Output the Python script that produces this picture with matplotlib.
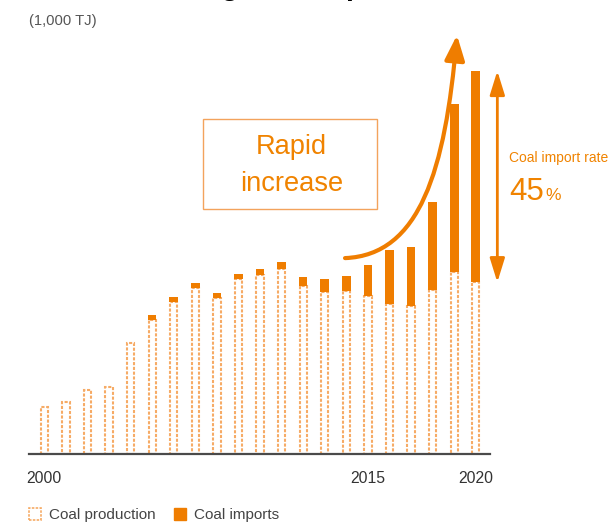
import matplotlib.pyplot as plt
from matplotlib.patches import Patch, Rectangle, FancyArrowPatch, ArrowStyle
from matplotlib.path import Path

plt.rcParams['font.family'] = ['Liberation Sans', 'DejaVu Sans']

# coal supply, 1,000 TJ
years = list(range(2000, 2021))
production = [237, 260, 320, 337, 555, 670, 762, 830, 780, 877, 895,
              927, 843, 813, 817, 793, 750, 742, 820, 910, 860]
imports = [0, 0, 0, 0, 0, 27, 25, 27, 27, 25, 32,
           35, 43, 63, 75, 153, 272, 295, 440, 842, 1057]
tick_years = [2000, 2015, 2020]
import_rate = 45

ORANGE = '#ef7d00'
TEXT_ORANGE = '#f08300'
LIGHT = '#f6ab66'

fig = plt.figure(figsize=(6.11, 5.25), dpi=100)
ax = fig.add_axes([29 / 611, 70.7 / 525, 461 / 611, 444.3 / 525])

ax.bar(years, production, width=0.34, color='white', edgecolor=LIGHT,
       linewidth=1.5, linestyle=(0, (1.5, 0.8)))
ax.bar(years, imports, width=0.40, bottom=production, color=ORANGE,
       linewidth=0)

ax.set_xlim(1999.29, 2020.66)
ax.set_ylim(0, 2221.5)
for s in ['top', 'left', 'right']:
    ax.spines[s].set_visible(False)
ax.spines['bottom'].set_color('#4a4a4a')
ax.spines['bottom'].set_linewidth(1.6)
ax.set_yticks([])
ax.set_xticks(tick_years)
ax.set_xticklabels([str(y) for y in tick_years])
ax.tick_params(axis='x', length=0, pad=12, labelsize=11.3,
               labelcolor='#333333')

# cropped heading and unit label
fig.text(150.8 / 611, 1 + 5 / 525, 'Rising coal imports', fontsize=20.7,
         fontweight='bold', color='black', ha='left', va='baseline')
fig.text(29 / 611, 1 - 21 / 525, '(1,000 TJ)', fontsize=10.6,
         color='#555555', ha='left', va='center')

# "Rapid increase" box
ax.add_patch(Rectangle((2007.37, 1225), 8.07, 450, fill=False,
                       edgecolor='#f3a35c', linewidth=1.0, clip_on=False))
ax.text(2011.45, 1501, 'Rapid', fontsize=19.6, color=TEXT_ORANGE,
        ha='center', va='baseline')
ax.text(2011.45, 1318, 'increase', fontsize=19.6, color=TEXT_ORANGE,
        ha='center', va='baseline')

# rising curve
curve = Path([(2013.94, 981), (2017.42, 996), (2018.58, 1421), (2019.13, 2096)],
             [Path.MOVETO, Path.CURVE4, Path.CURVE4, Path.CURVE4])
ax.add_patch(FancyArrowPatch(path=curve, transform=ax.transData,
                             arrowstyle=ArrowStyle('-|>', head_length=1.5,
                                                   head_width=0.6),
                             mutation_scale=10, color=ORANGE, linewidth=3,
                             clip_on=False))

# import share of 2020 supply
ax.annotate('', xy=(2021.0, production[-1] + imports[-1]),
            xytext=(2021.0, production[-1]), annotation_clip=False,
            arrowprops=dict(arrowstyle=ArrowStyle('<|-|>', head_length=1.45,
                                                  head_width=0.45),
                            mutation_scale=10, color=ORANGE, linewidth=2,
                            shrinkA=0, shrinkB=0))
ax.text(2021.56, 1481, 'Coal import rate', fontsize=10.0, color=TEXT_ORANGE,
        ha='left', va='center', clip_on=False)
ax.text(2021.56, 1271, str(import_rate), fontsize=22.5, color=TEXT_ORANGE,
        ha='left', va='baseline', clip_on=False)
ax.annotate('%', xy=(2021.56, 1271), xytext=(36, 0),
            textcoords='offset pixels', fontsize=12.5, color=TEXT_ORANGE,
            ha='left', va='baseline', annotation_clip=False)

handles = [Patch(facecolor='white', edgecolor=LIGHT, linewidth=1.2,
                 linestyle=(0, (1.5, 0.8)), label='Coal production'),
           Patch(facecolor=ORANGE, edgecolor=ORANGE, label='Coal imports')]
fig.legend(handles=handles, loc='center left',
           bbox_to_anchor=(29 / 611, 1 - 515 / 525), ncol=2, frameon=False,
           fontsize=11, labelcolor='#444444', handlelength=0.8,
           handleheight=0.8, handletextpad=0.5, columnspacing=1.2,
           borderpad=0, borderaxespad=0)

fig.savefig('out.png', dpi=100)
